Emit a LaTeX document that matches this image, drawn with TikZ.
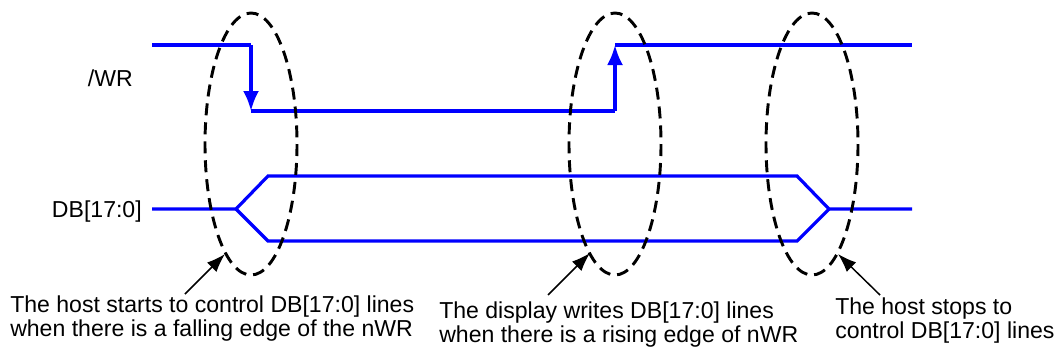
\documentclass[tikz,border=0pt]{standalone}
\usepackage{fontspec}
\setmainfont{Liberation Sans}
\usetikzlibrary{arrows.meta}
\definecolor{sigblue}{RGB}{0,0,255}
\tikzset{
  signal/.style={draw=sigblue, line width=2.4pt, line join=miter},
  edgearrow/.style={signal, -{Latex[length=15pt,width=12pt]}},
  region/.style={draw=black, line width=2.2pt, dash pattern=on 9pt off 5.25pt},
  pointer/.style={draw=black, line width=1.1pt, -{Latex[length=14pt,width=10pt]}},
  lbl/.style={inner sep=0pt, font=\fontsize{17.3}{17.4}\selectfont},
  note/.style={lbl, align=left, anchor=base west},
}
\begin{document}
\begin{tikzpicture}[x=0.75pt,y=-0.75pt]
\useasboundingbox (0,0) rectangle (1059,354);
% coordinates of /WR
\coordinate (w0) at (152,45);
\coordinate (w1) at (251,45);
\coordinate (w2) at (251,111);
\coordinate (w3) at (615,111);
\coordinate (w4) at (615,45);
\coordinate (w5) at (912,45);
% coordinates of DB
\coordinate (d0) at (152,209);
\coordinate (d1) at (236,209);
\coordinate (du1) at (268,176);
\coordinate (dl1) at (268,241);
\coordinate (du2) at (797,176);
\coordinate (dl2) at (797,241);
\coordinate (d2) at (829,209);
\coordinate (d3) at (912,209);
% labels
\node[lbl, anchor=base east] (wr) at (133,86) {/WR};
\node[lbl, anchor=base east] (db) at (142,217) {DB[17:0]};
% /WR signal
\draw[signal] (w0) -- (w1);
\draw[edgearrow] (w1) -- (w2);
\draw[signal] (w2) -- (w3);
\draw[edgearrow] (w3) -- (w4);
\draw[signal] (w4) -- (w5);
% DB signal
\draw[signal] (d0) -- (d1) -- (du1) -- (du2) -- (d2) -- (d3);
\draw[signal] (d1) -- (dl1) -- (dl2) -- (d2);
% dashed regions
\coordinate (e1) at (251,144);
\coordinate (e2) at (615,144);
\coordinate (e3) at (812,144);
\draw[region] (e1) ellipse [x radius=46, y radius=131];
\draw[region] (e2) ellipse [x radius=46, y radius=131];
\draw[region] (e3) ellipse [x radius=46, y radius=131];
% notes (anchored at the baseline of their last line)
\node[note] (n1) at (10,336) {The host starts to control DB[17:0] lines\\when there is a falling edge of the nWR};
\node[note] (n2) at (439,342) {The display writes DB[17:0] lines\\when there is a rising edge of nWR};
\node[note] (n3) at (835,338) {The host stops to\\control DB[17:0] lines};
% pointers
\coordinate (t1) at (225,254);
\coordinate (t2) at (590,253);
\coordinate (t3) at (838,254);
\coordinate (s1) at (185,294);
\coordinate (s2) at (548,295);
\coordinate (s3) at (880,295);
\draw[pointer] (s1) -- (t1);
\draw[pointer] (s2) -- (t2);
\draw[pointer] (s3) -- (t3);
\end{tikzpicture}
\end{document}
